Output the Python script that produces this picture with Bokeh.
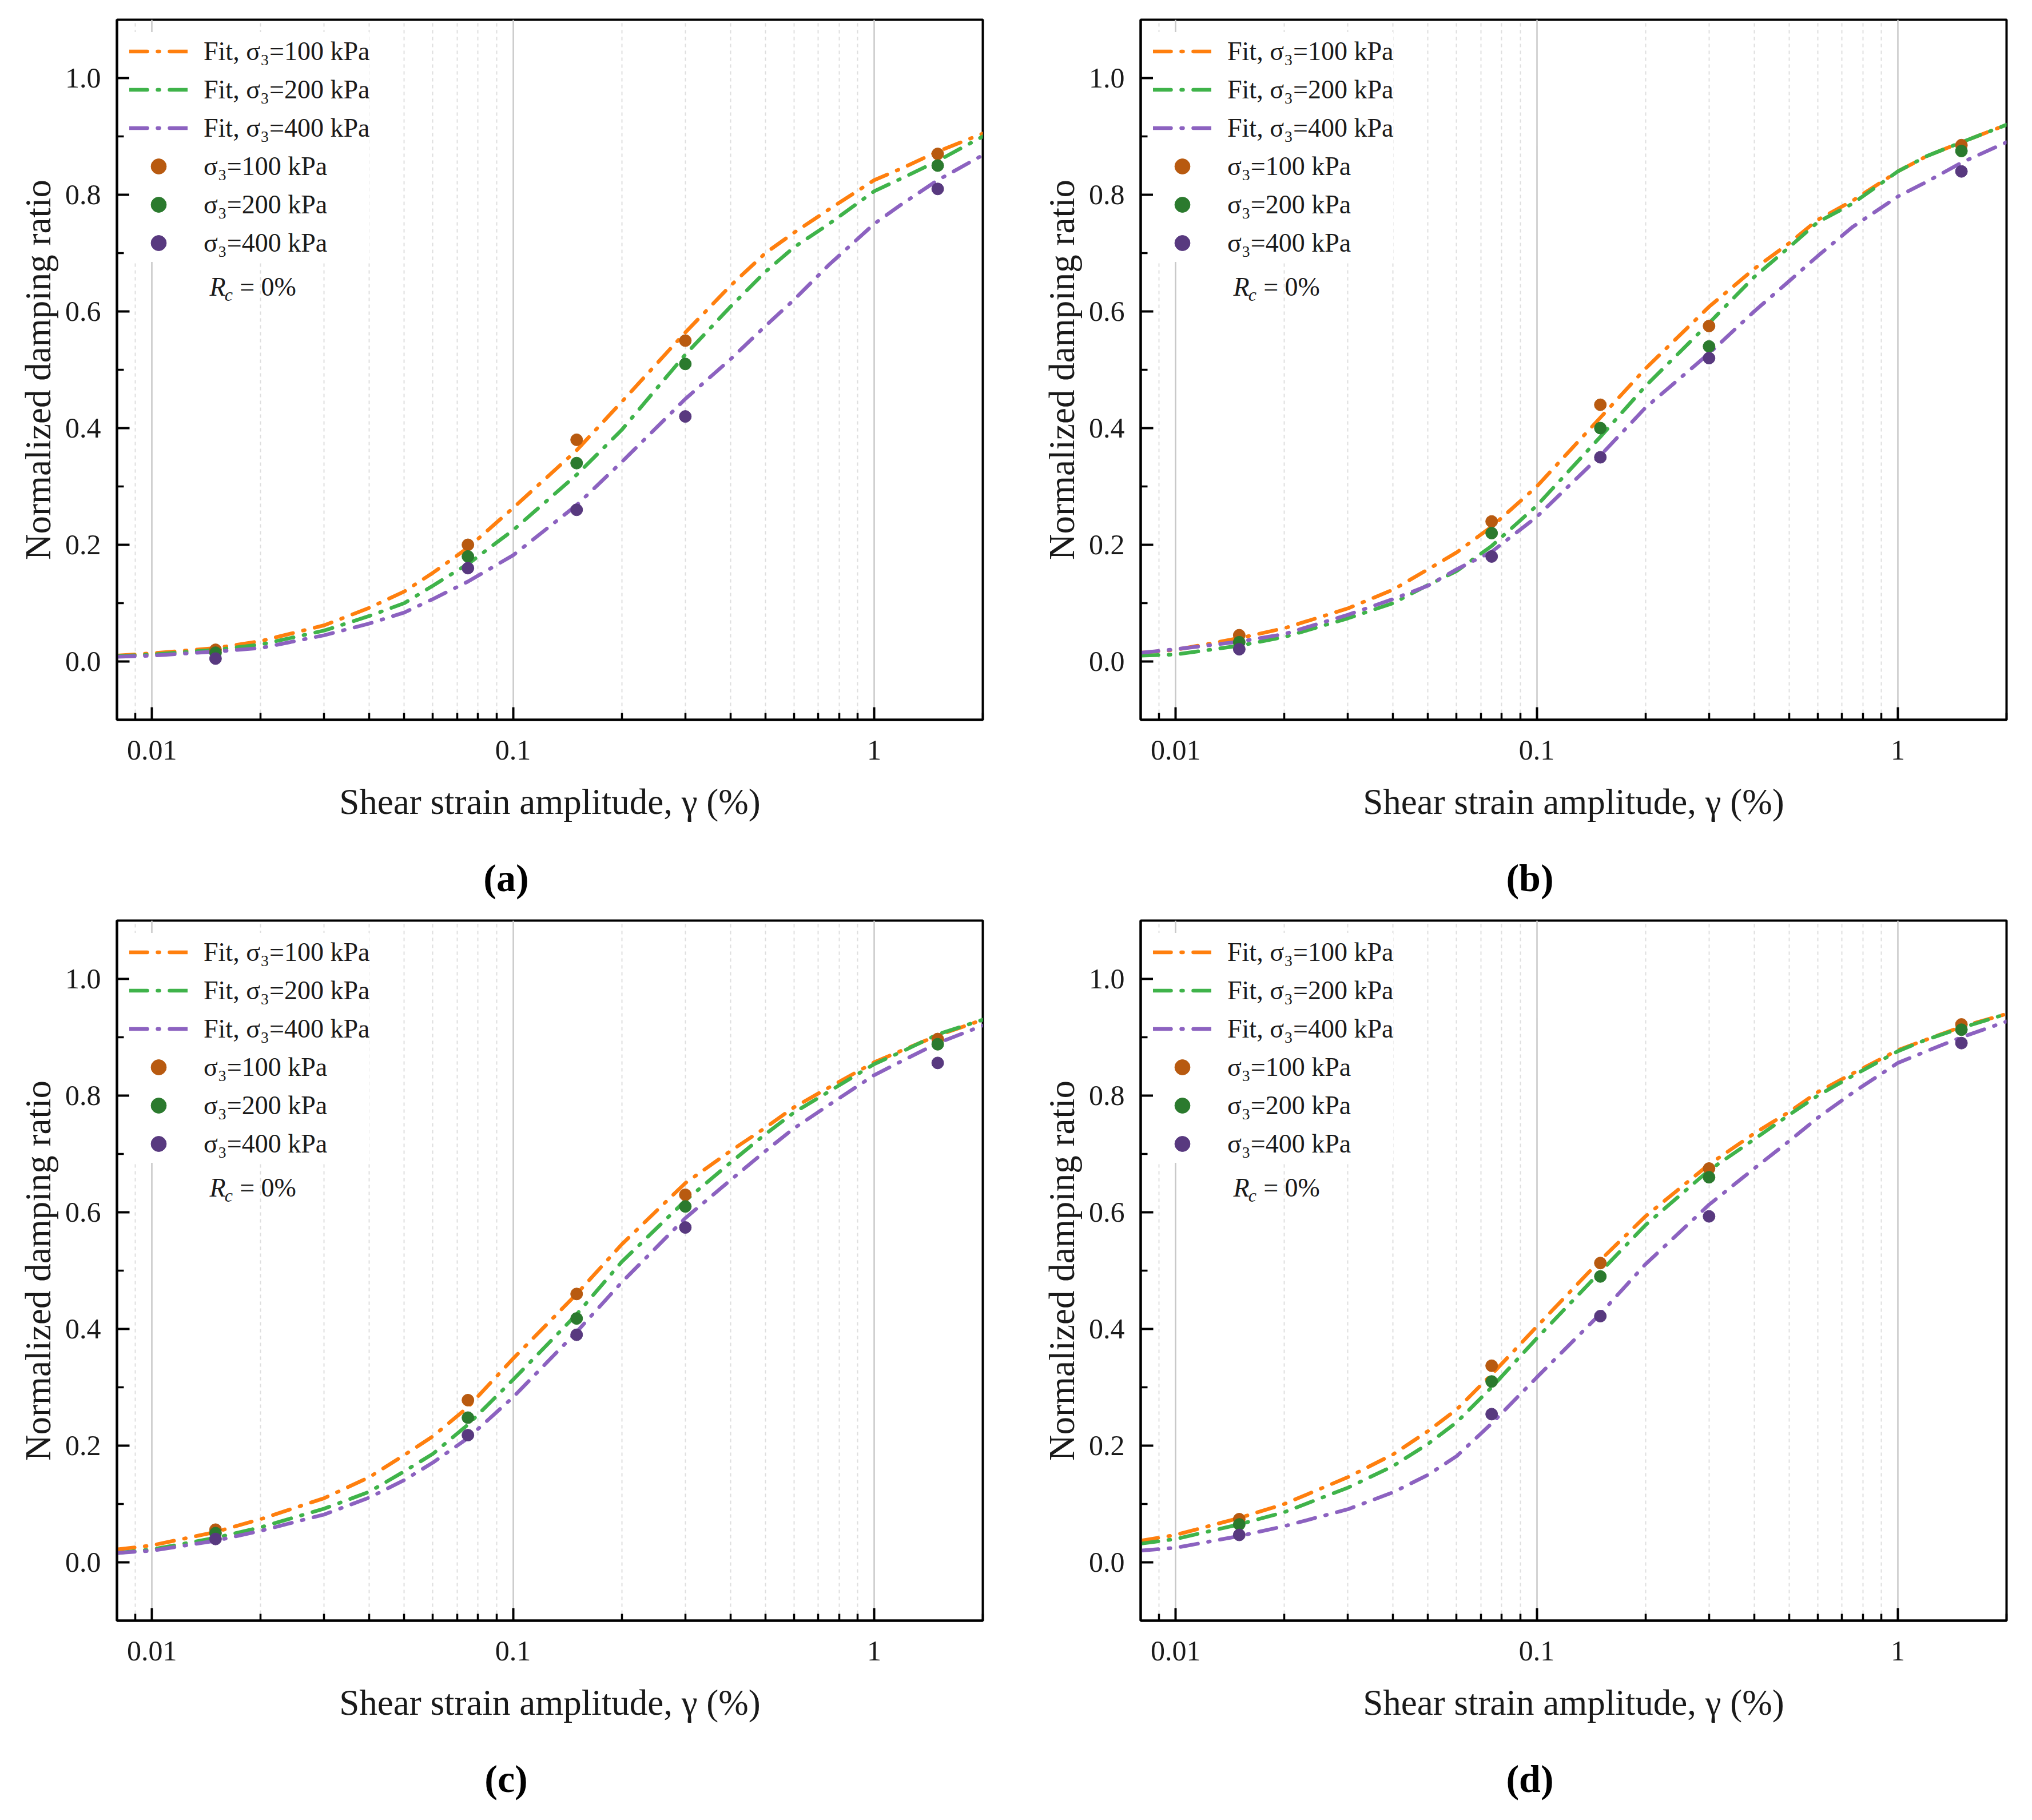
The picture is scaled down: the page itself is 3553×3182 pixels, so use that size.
from bokeh.plotting import figure
from bokeh.models import (Range1d, FixedTicker, CustomJSTickFormatter, PrintfTickFormatter,
                          Legend, LegendItem, Label, LinearAxis)
from bokeh.layouts import column, row
from bokeh.embed import file_html
from bokeh.resources import INLINE

# ---------------- data ----------------
strain = [0.015, 0.075, 0.15, 0.3, 1.5]
fit_strain = [0.008, 0.01, 0.015, 0.02, 0.03, 0.04, 0.05, 0.06, 0.075, 0.1, 0.15,
              0.2, 0.3, 0.4, 0.5, 0.6, 0.75, 1.0, 1.2, 1.5, 2.0]

a_pts100 = [0.020, 0.200, 0.380, 0.550, 0.870]
a_pts200 = [0.015, 0.180, 0.340, 0.510, 0.850]
a_pts400 = [0.005, 0.160, 0.260, 0.420, 0.810]
a_fit100 = [0.010, 0.014, 0.023, 0.035, 0.062, 0.092, 0.120, 0.152, 0.195, 0.263, 0.362,
            0.445, 0.564, 0.644, 0.700, 0.735, 0.775, 0.825, 0.846, 0.874, 0.905]
a_fit200 = [0.009, 0.012, 0.020, 0.029, 0.053, 0.078, 0.100, 0.130, 0.167, 0.225, 0.320,
            0.397, 0.526, 0.608, 0.668, 0.710, 0.750, 0.806, 0.829, 0.858, 0.900]
a_fit400 = [0.008, 0.010, 0.017, 0.023, 0.045, 0.065, 0.084, 0.107, 0.137, 0.182, 0.268,
            0.342, 0.450, 0.518, 0.575, 0.620, 0.680, 0.750, 0.785, 0.825, 0.868]

b_pts100 = [0.045, 0.240, 0.440, 0.575, 0.885]
b_pts200 = [0.033, 0.220, 0.400, 0.540, 0.875]
b_pts400 = [0.021, 0.180, 0.350, 0.520, 0.840]
b_fit100 = [0.015, 0.020, 0.040, 0.057, 0.091, 0.123, 0.158, 0.187, 0.231, 0.300, 0.418,
            0.502, 0.608, 0.673, 0.717, 0.757, 0.790, 0.840, 0.866, 0.890, 0.920]
b_fit200 = [0.010, 0.012, 0.027, 0.042, 0.074, 0.100, 0.131, 0.155, 0.198, 0.267, 0.385,
            0.472, 0.580, 0.659, 0.710, 0.753, 0.785, 0.840, 0.866, 0.890, 0.920]
b_fit400 = [0.015, 0.021, 0.034, 0.047, 0.080, 0.107, 0.130, 0.158, 0.188, 0.248, 0.353,
            0.435, 0.528, 0.600, 0.652, 0.695, 0.745, 0.797, 0.822, 0.855, 0.890]

c_pts100 = [0.056, 0.278, 0.460, 0.630, 0.897]
c_pts200 = [0.050, 0.248, 0.418, 0.610, 0.888]
c_pts400 = [0.040, 0.218, 0.390, 0.574, 0.856]
c_fit100 = [0.022, 0.029, 0.052, 0.074, 0.110, 0.146, 0.184, 0.216, 0.266, 0.349, 0.460,
            0.545, 0.650, 0.705, 0.745, 0.780, 0.814, 0.857, 0.878, 0.903, 0.930]
c_fit200 = [0.016, 0.022, 0.042, 0.060, 0.092, 0.121, 0.156, 0.186, 0.236, 0.313, 0.425,
            0.515, 0.620, 0.685, 0.734, 0.771, 0.807, 0.854, 0.876, 0.905, 0.930]
c_fit400 = [0.016, 0.020, 0.037, 0.054, 0.082, 0.111, 0.141, 0.171, 0.213, 0.283, 0.395,
            0.480, 0.590, 0.655, 0.705, 0.744, 0.784, 0.835, 0.860, 0.890, 0.920]

d_pts100 = [0.074, 0.337, 0.513, 0.675, 0.922]
d_pts200 = [0.065, 0.310, 0.490, 0.660, 0.913]
d_pts400 = [0.047, 0.254, 0.422, 0.593, 0.890]
d_fit100 = [0.037, 0.047, 0.076, 0.100, 0.146, 0.185, 0.225, 0.262, 0.322, 0.404, 0.518,
            0.593, 0.682, 0.735, 0.772, 0.806, 0.838, 0.878, 0.896, 0.918, 0.940]
d_fit200 = [0.032, 0.040, 0.065, 0.086, 0.128, 0.165, 0.203, 0.240, 0.300, 0.384, 0.498,
            0.578, 0.672, 0.725, 0.767, 0.800, 0.834, 0.876, 0.896, 0.916, 0.940]
d_fit400 = [0.020, 0.025, 0.045, 0.062, 0.091, 0.120, 0.150, 0.182, 0.238, 0.317, 0.426,
            0.511, 0.613, 0.675, 0.722, 0.762, 0.805, 0.856, 0.876, 0.900, 0.927]

fit_labels = ["Fit, σ₃=100 kPa", "Fit, σ₃=200 kPa", "Fit, σ₃=400 kPa"]
pt_labels = ["σ₃=100 kPa", "σ₃=200 kPa", "σ₃=400 kPa"]
x_major = [0.01, 0.1, 1.0]
x_minor = [0.009, 0.02, 0.03, 0.04, 0.05, 0.06, 0.07, 0.08, 0.09,
           0.2, 0.3, 0.4, 0.5, 0.6, 0.7, 0.8, 0.9, 2.0]
y_major = [0.0, 0.2, 0.4, 0.6, 0.8, 1.0]
y_minor = [0.1, 0.3, 0.5, 0.7, 0.9]

# ---------------- style ----------------
FONT = "Liberation Serif"
LINE_COLORS = ["#ff7f0e", "#3fb34a", "#8c62c0"]
PT_COLORS = ["#b85a10", "#2b7a2e", "#58397f"]
DASH = "31 18 3 18"
NBSP = "\u00a0"


def make_panel(letter, pts, fits, borders):
    left, right, top, bottom = borders
    p = figure(x_axis_type="log", x_range=Range1d(0.008, 2.0), y_range=Range1d(-0.1, 1.1),
               frame_width=1514, frame_height=1224,
               min_border_left=left, min_border_right=right,
               min_border_top=top, min_border_bottom=bottom,
               output_backend="svg", toolbar_location=None)
    p.background_fill_color = "white"
    p.border_fill_color = "white"
    p.outline_line_color = "black"
    p.outline_line_width = 4

    xt = FixedTicker(ticks=x_major, minor_ticks=x_minor)
    yt = FixedTicker(ticks=y_major, minor_ticks=y_minor)
    p.xaxis.ticker = xt
    p.yaxis.ticker = yt
    p.xgrid.ticker = xt
    p.xaxis.formatter = CustomJSTickFormatter(code="return (Math.round(tick*1000)/1000).toString();")
    p.yaxis.formatter = PrintfTickFormatter(format="%.1f")

    p.xgrid.grid_line_color = "#c8c8c8"
    p.xgrid.grid_line_width = 2.5
    p.xgrid.minor_grid_line_color = "#dedede"
    p.xgrid.minor_grid_line_width = 2
    p.xgrid.minor_grid_line_dash = "6 6"
    p.ygrid.grid_line_color = None

    for ax in (p.xaxis[0], p.yaxis[0]):
        ax.axis_line_width = 4
        ax.axis_line_color = "black"
        ax.major_tick_line_width = 4
        ax.minor_tick_line_width = 3.5
        ax.major_tick_in = 22
        ax.major_tick_out = 0
        ax.minor_tick_in = 12
        ax.minor_tick_out = 0
        ax.major_label_text_font = FONT
        ax.major_label_text_font_size = "50px"
        ax.major_label_text_color = "#1a1a1a"
        ax.axis_label_text_font = FONT
        ax.axis_label_text_font_size = "63px"
        ax.axis_label_text_font_style = "normal"
        ax.axis_label_text_color = "#1a1a1a"
    p.xaxis.axis_label = "Shear strain amplitude, γ (%)"
    p.yaxis.axis_label = "Normalized damping ratio"
    p.xaxis.major_label_standoff = 36
    p.xaxis.axis_label_standoff = 36
    p.yaxis.major_label_standoff = 28
    p.yaxis.axis_label_standoff = 9

    line_rs = []
    for fy, c in zip(fits, LINE_COLORS):
        line_rs.append(p.line(fit_strain, fy, line_color=c, line_width=6.5,
                              line_dash=DASH, line_cap="round"))
    pt_rs = []
    for py, c in zip(pts, PT_COLORS):
        pt_rs.append(p.scatter(strain, py, marker="circle", size=21,
                               fill_color=c, line_color=c))

    items = [LegendItem(label=l, renderers=[r]) for l, r in zip(fit_labels, line_rs)]
    items += [LegendItem(label=l, renderers=[r]) for l, r in zip(pt_labels, pt_rs)]
    leg = Legend(items=items, location="top_left", margin=22, padding=0, spacing=0,
                 label_height=67, glyph_height=67, glyph_width=102, label_standoff=28,
                 label_text_font=FONT, label_text_font_size="46px", label_text_color="#1a1a1a",
                 background_fill_color="white", background_fill_alpha=1.0,
                 border_line_color=None)
    p.add_layout(leg)

    # R_c = 0%
    p.add_layout(Label(x=0.01445, y=0.642, text="R", text_font=FONT, text_font_size="46px",
                       text_font_style="italic", text_baseline="alphabetic", text_color="#1a1a1a"))
    p.add_layout(Label(x=0.0159, y=0.629, text="c", text_font=FONT, text_font_size="32px",
                       text_font_style="italic", text_baseline="alphabetic", text_color="#1a1a1a"))
    p.add_layout(Label(x=0.0175, y=0.642, text="= 0%", text_font=FONT, text_font_size="46px",
                       text_baseline="alphabetic", text_color="#1a1a1a"))

    # panel caption, drawn as the label of a bare extra axis below the main one
    cap = LinearAxis(ticker=FixedTicker(ticks=[]), axis_label="(" + letter + ")" + NBSP * 9,
                     axis_line_color=None, major_tick_line_color=None, minor_tick_line_color=None,
                     major_tick_in=0, major_tick_out=0, minor_tick_in=0, minor_tick_out=0,
                     major_label_text_font_size="0px", major_label_standoff=0,
                     axis_label_standoff=57, axis_label_text_font=FONT,
                     axis_label_text_font_size="68px", axis_label_text_font_style="bold",
                     axis_label_text_color="black")
    p.add_layout(cap, "below")
    return p


pa = make_panel("a", [a_pts100, a_pts200, a_pts400], [a_fit100, a_fit200, a_fit400], (204, 62, 34, 333))
pb = make_panel("b", [b_pts100, b_pts200, b_pts400], [b_fit100, b_fit200, b_fit400], (214, 37, 34, 333))
pc = make_panel("c", [c_pts100, c_pts200, c_pts400], [c_fit100, c_fit200, c_fit400], (204, 62, 18, 341))
pd = make_panel("d", [d_pts100, d_pts200, d_pts400], [d_fit100, d_fit200, d_fit400], (214, 37, 18, 341))

layout = column(row(pa, pb), row(pc, pd))
open("out.html", "w").write(file_html(layout, INLINE))
